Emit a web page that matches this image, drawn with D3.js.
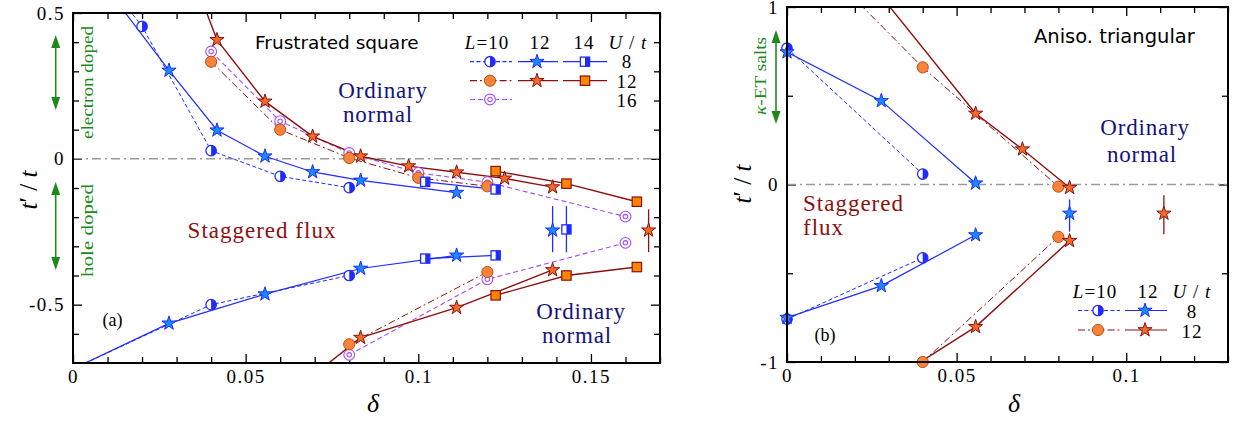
<!DOCTYPE html>
<html>

<head>
    <meta charset="utf-8" />
    <title>Staggered flux phase diagram</title>
    <script src="https://d3js.org/d3.v7.min.js"></script>
    <style>
        body {
            margin: 0;
            background: #fff;
        }

        svg {
            display: block;
        }

        .tick text {
            font-family: "Liberation Serif", "Times New Roman", serif;
            font-size: 19px;
            letter-spacing: 1.5px;
            fill: #000;
        }

        .tick line {
            stroke: #000;
            stroke-width: 1.3;
        }

        .serif {
            font-family: "Liberation Serif", "Times New Roman", serif;
        }

        .sans {
            font-family: "DejaVu Sans", Verdana, sans-serif;
        }
    </style>
</head>

<body>
</body>
<script>
    // ---- (a) frustrated square lattice: [delta, t'/t] ----
    var sqL10U8 = [[0, 0.76], [0.02, 0.454], [0.04, 0.028], [0.06, -0.06], [0.08, -0.099]]
    var sqL10U8Low = [[0, -0.72], [0.04, -0.5], [0.08, -0.4]]
    var sqL12U8 = [[0.0139, 0.52], [0.0278, 0.303], [0.0417, 0.098], [0.0556, 0.009], [0.0694, -0.045], [0.0833, -0.074], [0.1111, -0.116]]
    var sqL12U8Low = [[0, -0.72], [0.0278, -0.564], [0.0556, -0.464], [0.0833, -0.376], [0.1111, -0.331]]
    var sqL14U8 = [[0.102, -0.079], [0.1224, -0.105]]
    var sqL14U8Low = [[0.102, -0.342], [0.1224, -0.331]]
    var sqL10U12 = [[0.04, 0.333], [0.06, 0.1], [0.08, 0.003], [0.1, -0.065], [0.12, -0.094]]
    var sqL10U12Low = [[0.08, -0.636], [0.12, -0.388]]
    var sqL12U12 = [[0.0278, 0.84], [0.0417, 0.408], [0.0556, 0.197], [0.0694, 0.077], [0.0833, 0.009], [0.0972, -0.025], [0.1111, -0.046], [0.125, -0.067], [0.1389, -0.097]]
    var sqL12U12Low = [[0.0694, -0.744], [0.0833, -0.613], [0.1111, -0.51], [0.1389, -0.381]]
    var sqL14U12 = [[0.1224, -0.042], [0.1429, -0.085], [0.1633, -0.147]]
    var sqL14U12Low = [[0.1224, -0.468], [0.1429, -0.4], [0.1633, -0.371]]
    var sqL10U16 = [[0.04, 0.368], [0.06, 0.129], [0.08, 0.02], [0.1, -0.048], [0.12, -0.08], [0.16, -0.198]]
    var sqL10U16Low = [[0.08, -0.672], [0.12, -0.413], [0.16, -0.288]]
    // error bar points: [delta, value, low, high]
    var sqErrL12U8 = [[0.1389, -0.245, -0.32, -0.162]]
    var sqErrL14U8 = [[0.1429, -0.242, -0.32, -0.162]]
    var sqErrL12U12 = [[0.1667, -0.245, -0.32, -0.173]]

    // ---- (b) anisotropic triangular lattice ----
    var triL10U8 = [[0, 0.768], [0.04, 0.059]]
    var triL10U8Low = [[0, -0.759], [0.04, -0.413]]
    var triL12U8 = [[0, 0.746], [0.0278, 0.471], [0.0556, 0.007]]
    var triL12U8Low = [[0, -0.75], [0.0278, -0.571], [0.0556, -0.285]]
    var triL10U12 = [[0, 1.43], [0.04, 0.66], [0.08, -0.012]]
    var triL10U12Low = [[0.04, -1.0], [0.08, -0.295]]
    var triL12U12 = [[0.0278, 1.06], [0.0556, 0.4], [0.0694, 0.199], [0.0833, -0.018]]
    var triL12U12Low = [[0.0278, -1.14], [0.0556, -0.802], [0.0833, -0.317]]
    var triErrL12U8 = [[0.0833, -0.163, -0.266, -0.084]]
    var triErrL12U12 = [[0.1111, -0.163, -0.28, -0.06]]

    // ticks
    var aXLabels = [0, 0.05, 0.1, 0.15]
    var aXMinor = [0.01, 0.02, 0.03, 0.04, 0.06, 0.07, 0.08, 0.09, 0.11, 0.12, 0.13, 0.14, 0.16, 0.17]
    var aYLabels = [-0.5, 0, 0.5]
    var aYMinor = [-0.6, -0.4, -0.3, -0.2, -0.1, 0.1, 0.2, 0.3, 0.4]
    var bXLabels = [0, 0.05, 0.1]
    var bXMinor = [0.01, 0.02, 0.03, 0.04, 0.06, 0.07, 0.08, 0.09, 0.11, 0.12, 0.13]
    var bYLabels = [-1, 0, 1]
    var bYMinor = [-0.5, 0.5]

    var config = {
        color: {
            BLUE: "#1f2cff",
            STAR_BLUE: "#1a8aff",
            DRED: "#8c1010",
            ORANGE: "#f6843a",
            ORANGE_EDGE: "#c54a12",
            STAR_RED: "#f06a28",
            SQ_ORANGE: "#ff8400",
            PURPLE: "#a44cff",
            GREEN: "#1b8a1b",
            NAVY: "#14147c",
            ZERO: "#9a9a9a"
        },
        dash: {
            solid: null,
            dash: "4,2.5",
            dashdot: "7,3,1.8,3",
            pdash: "5,3"
        }
    }
    var C = config.color

    var svg = d3.select("body").append("svg")
        .attr("width", 1235)
        .attr("height", 425)

    function makePanel(id, xDomain, xRange, yDomain, yRange) {
        var p = {
            x: d3.scaleLinear().domain(xDomain).range(xRange),
            y: d3.scaleLinear().domain(yDomain).range(yRange),
            g: svg.append("g").attr("id", id),
            clip: id + "-clip"
        }
        svg.append("clipPath").attr("id", p.clip)
            .append("rect")
            .attr("x", xRange[0]).attr("y", yRange[1])
            .attr("width", xRange[1] - xRange[0])
            .attr("height", yRange[0] - yRange[1])
        return p
    }

    function drawAxes(p, xLab, xMin, yLab, yMin) {
        var x0 = p.x.range()[0], x1 = p.x.range()[1]
        var y0 = p.y.range()[0], y1 = p.y.range()[1]
        var fmt = function (d) { return String(d) }
        var ax = p.g.append("g").attr("class", "axes")
        ax.append("g").attr("transform", "translate(0," + y0 + ")")
            .call(d3.axisBottom(p.x).tickValues(xLab).tickSize(-9).tickPadding(7).tickFormat(fmt))
        ax.append("g").attr("transform", "translate(0," + y0 + ")")
            .call(d3.axisBottom(p.x).tickValues(xMin).tickSize(-6).tickFormat(""))
        ax.append("g").attr("transform", "translate(0," + y1 + ")")
            .call(d3.axisTop(p.x).tickValues(xLab).tickSize(-9).tickFormat(""))
        ax.append("g").attr("transform", "translate(0," + y1 + ")")
            .call(d3.axisTop(p.x).tickValues(xMin).tickSize(-6).tickFormat(""))
        ax.append("g").attr("transform", "translate(" + x0 + ",0)")
            .call(d3.axisLeft(p.y).tickValues(yLab).tickSize(-9).tickPadding(8).tickFormat(fmt))
        ax.append("g").attr("transform", "translate(" + x0 + ",0)")
            .call(d3.axisLeft(p.y).tickValues(yMin).tickSize(-6).tickFormat(""))
        ax.append("g").attr("transform", "translate(" + x1 + ",0)")
            .call(d3.axisRight(p.y).tickValues(yLab).tickSize(-9).tickFormat(""))
        ax.append("g").attr("transform", "translate(" + x1 + ",0)")
            .call(d3.axisRight(p.y).tickValues(yMin).tickSize(-6).tickFormat(""))
        ax.selectAll(".domain").remove()
        // zero line
        p.g.append("line")
            .attr("x1", x0).attr("x2", x1)
            .attr("y1", p.y(0)).attr("y2", p.y(0))
            .style("stroke", C.ZERO).style("stroke-width", 1.5)
            .style("stroke-dasharray", "9,4,2,4")
    }

    function drawFrame(p) {
        var x0 = p.x.range()[0], x1 = p.x.range()[1]
        var y0 = p.y.range()[0], y1 = p.y.range()[1]
        p.g.append("rect")
            .attr("x", x0).attr("y", y1)
            .attr("width", x1 - x0).attr("height", y0 - y1)
            .style("fill", "none").style("stroke", "#000").style("stroke-width", 2)
    }

    function marker(g, type, cx, cy) {
        var m = g.append("g").attr("transform", "translate(" + cx + "," + cy + ")")
        switch (type) {
            case "half":
                m.append("circle").attr("r", 5.2)
                    .style("fill", "#fff").style("stroke", C.BLUE).style("stroke-width", 1.3)
                m.append("path").attr("d", "M0,-5.2A5.2,5.2 0 0 1 0,5.2Z")
                    .style("fill", C.BLUE)
                break
            case "halfsq":
                m.append("rect").attr("x", -4.6).attr("y", -4.6).attr("width", 9.2).attr("height", 9.2)
                    .style("fill", "#fff").style("stroke", C.BLUE).style("stroke-width", 1.3)
                m.append("rect").attr("x", 0).attr("y", -4.6).attr("width", 4.6).attr("height", 9.2)
                    .style("fill", C.BLUE)
                break
            case "star":
                m.append("path").attr("d", d3.symbol(d3.symbolStar, 62)())
                    .style("fill", C.STAR_BLUE).style("stroke", C.BLUE).style("stroke-width", 1)
                break
            case "rstar":
                m.append("path").attr("d", d3.symbol(d3.symbolStar, 62)())
                    .style("fill", C.STAR_RED).style("stroke", C.DRED).style("stroke-width", 1)
                break
            case "circle":
                m.append("circle").attr("r", 5.6)
                    .style("fill", C.ORANGE).style("stroke", C.ORANGE_EDGE).style("stroke-width", 1)
                break
            case "square":
                m.append("rect").attr("x", -4.7).attr("y", -4.7).attr("width", 9.4).attr("height", 9.4)
                    .style("fill", C.SQ_ORANGE).style("stroke", C.DRED).style("stroke-width", 1.2)
                break
            case "dcircle":
                m.append("circle").attr("r", 5.4)
                    .style("fill", "#fff").style("stroke", C.PURPLE).style("stroke-width", 1.1)
                m.append("circle").attr("r", 2.2)
                    .style("fill", "none").style("stroke", C.PURPLE).style("stroke-width", 1.1)
                break
        }
    }

    function inside(p, d) {
        var xd = p.x.domain(), yd = p.y.domain()
        return d[0] >= xd[0] - 1e-9 && d[0] <= xd[1] && d[1] >= yd[0] - 1e-9 && d[1] <= yd[1] + 1e-9
    }

    function drawSeries(p, list) {
        var line = d3.line().x(d => p.x(d[0])).y(d => p.y(d[1]))
        var lines = p.g.append("g").attr("clip-path", "url(#" + p.clip + ")")
        list.forEach(function (s) {
            lines.append("path").datum(s.data)
                .attr("d", line)
                .style("fill", "none")
                .style("stroke", s.color)
                .style("stroke-width", s.width || 1.2)
                .style("stroke-dasharray", config.dash[s.dash])
        })
        var marks = p.g.append("g")
        list.forEach(function (s) {
            s.data.filter(d => inside(p, d)).forEach(function (d) {
                marker(marks, s.mark, p.x(d[0]), p.y(d[1]))
            })
        })
    }

    function drawErrors(p, list) {
        var g = p.g.append("g")
        list.forEach(function (s) {
            s.data.forEach(function (d) {
                g.append("line")
                    .attr("x1", p.x(d[0])).attr("x2", p.x(d[0]))
                    .attr("y1", p.y(d[2])).attr("y2", p.y(d[3]))
                    .style("stroke", s.color).style("stroke-width", 1.3)
                marker(g, s.mark, p.x(d[0]), p.y(d[1]))
            })
        })
    }

    function text(x, y, str, cls, size, color, anchor) {
        return svg.append("text")
            .attr("x", x).attr("y", y)
            .attr("class", cls)
            .style("font-size", size + "px")
            .style("fill", color || "#000")
            .style("text-anchor", anchor || "start")
            .text(str)
    }

    function yTitle(x, y) {
        var t = svg.append("text")
            .attr("class", "serif")
            .attr("transform", "translate(" + x + "," + y + ") rotate(-90)")
            .style("font-size", "25px")
            .style("text-anchor", "middle")
        t.append("tspan").style("font-style", "italic").text("t")
        t.append("tspan").text("\u2032 / ")
        t.append("tspan").style("font-style", "italic").text("t")
    }

    function greenArrow(x, ya, yb) {
        svg.append("line")
            .attr("x1", x).attr("x2", x).attr("y1", ya + 10).attr("y2", yb - 10)
            .style("stroke", C.GREEN).style("stroke-width", 1.6)
        svg.append("path")
            .attr("d", "M" + x + "," + ya + "l-4.5,13h9z")
            .style("fill", C.GREEN)
        svg.append("path")
            .attr("d", "M" + x + "," + yb + "l-4.5,-13h9z")
            .style("fill", C.GREEN)
    }

    function greenLabel(x, y, str, len, size) {
        svg.append("text")
            .attr("class", "serif")
            .attr("transform", "translate(" + x + "," + y + ") rotate(-90)")
            .attr("textLength", len)
            .attr("lengthAdjust", "spacingAndGlyphs")
            .style("font-size", size + "px")
            .style("fill", C.GREEN)
            .style("text-anchor", "middle")
            .text(str)
    }

    function legendHeader(items, y) {
        items.forEach(function (it) {
            var t = svg.append("text").attr("class", "serif")
                .attr("x", it.x).attr("y", y)
                .style("font-size", "19px").style("text-anchor", "middle")
                .style("letter-spacing", "1px")
            if (it.s == "L") {
                t.append("tspan").style("font-style", "italic").text("L")
                t.append("tspan").text("=10")
            } else if (it.s == "U") {
                t.append("tspan").style("font-style", "italic").text("U")
                t.append("tspan").text(" / ")
                t.append("tspan").style("font-style", "italic").text("t")
            } else {
                t.text(it.s)
            }
        })
    }

    function legendEntry(x1, x2, mx, y, color, dash, mark) {
        svg.append("line")
            .attr("x1", x1).attr("x2", x2).attr("y1", y).attr("y2", y)
            .style("stroke", color).style("stroke-width", 1.2)
            .style("stroke-dasharray", config.dash[dash])
        marker(svg, mark, mx, y)
    }

    // ---------------- panel (a) ----------------
    var pa = makePanel("pa", [0, 0.17], [73, 660], [-0.7, 0.5], [363, 13])
    drawAxes(pa, aXLabels, aXMinor, aYLabels, aYMinor)
    drawSeries(pa, [
        { data: sqL10U8, color: C.BLUE, dash: "dash", mark: "half", width: 1 },
        { data: sqL10U8Low, color: C.BLUE, dash: "dash", mark: "half", width: 1 },
        { data: sqL10U16, color: C.PURPLE, dash: "pdash", mark: "dcircle", width: 1.1 },
        { data: sqL10U16Low, color: C.PURPLE, dash: "pdash", mark: "dcircle", width: 1.1 },
        { data: sqL10U12, color: C.DRED, dash: "dashdot", mark: "circle", width: 1 },
        { data: sqL10U12Low, color: C.DRED, dash: "dashdot", mark: "circle", width: 1 },
        { data: sqL12U8, color: C.BLUE, dash: "solid", mark: "star" },
        { data: sqL12U8Low, color: C.BLUE, dash: "solid", mark: "star" },
        { data: sqL14U8, color: C.BLUE, dash: "solid", mark: "halfsq" },
        { data: sqL14U8Low, color: C.BLUE, dash: "solid", mark: "halfsq" },
        { data: sqL12U12, color: C.DRED, dash: "solid", mark: "rstar", width: 1.4 },
        { data: sqL12U12Low, color: C.DRED, dash: "solid", mark: "rstar", width: 1.4 },
        { data: sqL14U12, color: C.DRED, dash: "solid", mark: "square", width: 1.4 },
        { data: sqL14U12Low, color: C.DRED, dash: "solid", mark: "square", width: 1.4 }
    ])
    drawErrors(pa, [
        { data: sqErrL12U8, color: C.BLUE, mark: "star" },
        { data: sqErrL14U8, color: C.BLUE, mark: "halfsq" },
        { data: sqErrL12U12, color: C.DRED, mark: "rstar" }
    ])
    drawFrame(pa)

    text(255, 48.5, "Frustrated square", "sans", 18.5)
    legendHeader([{ x: 487, s: "L" }, { x: 540, s: "12" }, { x: 584, s: "14" }, { x: 628, s: "U" }], 49)
    legendEntry(470, 512, 490, 61.7, C.BLUE, "dash", "half")
    legendEntry(518, 558, 537, 61.7, C.BLUE, "solid", "star")
    legendEntry(563, 607, 585, 61.7, C.BLUE, "solid", "halfsq")
    legendEntry(470, 512, 490, 80.7, C.DRED, "dashdot", "circle")
    legendEntry(518, 558, 537, 80.7, C.DRED, "solid", "rstar")
    legendEntry(563, 607, 585, 80.7, C.DRED, "solid", "square")
    legendEntry(470, 512, 490, 99.5, C.PURPLE, "pdash", "dcircle")
    text(627, 68, "8", "serif", 19, "#000", "middle").style("letter-spacing", "1px")
    text(627, 88, "12", "serif", 19, "#000", "middle").style("letter-spacing", "1px")
    text(627, 107, "16", "serif", 19, "#000", "middle").style("letter-spacing", "1px")

    text(383, 97.5, "Ordinary", "serif", 23, C.NAVY, "middle").style("letter-spacing", "0.8px")
    text(378, 121.5, "normal", "serif", 23, C.NAVY, "middle").style("letter-spacing", "0.8px")
    text(581, 319, "Ordinary", "serif", 23, C.NAVY, "middle").style("letter-spacing", "0.8px")
    text(577, 342.5, "normal", "serif", 23, C.NAVY, "middle").style("letter-spacing", "0.8px")
    text(262, 238, "Staggered flux", "serif", 23, C.DRED, "middle").style("letter-spacing", "1px")
    text(112.5, 326, "(a)", "serif", 18, "#000", "middle")

    greenArrow(55.7, 35, 110)
    greenArrow(55.7, 182, 270)
    greenLabel(93, 82.5, "electron doped", 113, 16)
    greenLabel(93, 230.5, "hole doped", 93, 16)

    yTitle(37, 190)
    text(373, 412, "\u03b4", "serif", 26, "#000", "middle").style("font-style", "italic")

    // ---------------- panel (b) ----------------
    var pb = makePanel("pb", [0, 0.13], [787, 1228], [-1, 1], [362, 7])
    drawAxes(pb, bXLabels, bXMinor, bYLabels, bYMinor)
    drawSeries(pb, [
        { data: triL10U8, color: C.BLUE, dash: "dash", mark: "half", width: 1 },
        { data: triL10U8Low, color: C.BLUE, dash: "dash", mark: "half", width: 1 },
        { data: triL10U12, color: C.DRED, dash: "dashdot", mark: "circle", width: 1 },
        { data: triL10U12Low, color: C.DRED, dash: "dashdot", mark: "circle", width: 1 },
        { data: triL12U8, color: C.BLUE, dash: "solid", mark: "star" },
        { data: triL12U8Low, color: C.BLUE, dash: "solid", mark: "star" },
        { data: triL12U12, color: C.DRED, dash: "solid", mark: "rstar", width: 1.4 },
        { data: triL12U12Low, color: C.DRED, dash: "solid", mark: "rstar", width: 1.4 }
    ])
    drawErrors(pb, [
        { data: triErrL12U8, color: C.BLUE, mark: "star" },
        { data: triErrL12U12, color: C.DRED, mark: "rstar" }
    ])
    drawFrame(pb)

    text(1034, 43.3, "Aniso. triangular", "sans", 19.5)
    text(1145, 135, "Ordinary", "serif", 23, C.NAVY, "middle").style("letter-spacing", "0.8px")
    text(1142, 161.5, "normal", "serif", 23, C.NAVY, "middle").style("letter-spacing", "0.8px")
    text(803, 211, "Staggered", "serif", 23, C.DRED).style("letter-spacing", "1px")
    text(803, 235, "flux", "serif", 23, C.DRED).style("letter-spacing", "1px")
    text(825, 341, "(b)", "serif", 18, "#000", "middle")

    legendHeader([{ x: 1095, s: "L" }, { x: 1148, s: "12" }, { x: 1192, s: "U" }], 298)
    legendEntry(1078, 1120, 1098, 310.5, C.BLUE, "dash", "half")
    legendEntry(1125, 1167, 1145, 310.5, C.BLUE, "solid", "star")
    legendEntry(1078, 1120, 1098, 330, C.DRED, "dashdot", "circle")
    legendEntry(1125, 1167, 1145, 330, C.DRED, "solid", "rstar")
    text(1192, 317.5, "8", "serif", 19, "#000", "middle").style("letter-spacing", "1px")
    text(1192, 337.5, "12", "serif", 19, "#000", "middle").style("letter-spacing", "1px")

    greenArrow(776, 30, 124)
    svg.append("text")
        .attr("class", "serif")
        .attr("transform", "translate(766,76) rotate(-90)")
        .attr("textLength", 78)
        .attr("lengthAdjust", "spacingAndGlyphs")
        .style("font-size", "17px")
        .style("fill", C.GREEN)
        .style("text-anchor", "middle")
        .call(function (t) {
            t.append("tspan").style("font-style", "italic").text("\u03ba")
            t.append("tspan").text("-ET salts")
        })

    yTitle(751, 184)
    text(1014, 412, "\u03b4", "serif", 26, "#000", "middle").style("font-style", "italic")
</script>

</html>
